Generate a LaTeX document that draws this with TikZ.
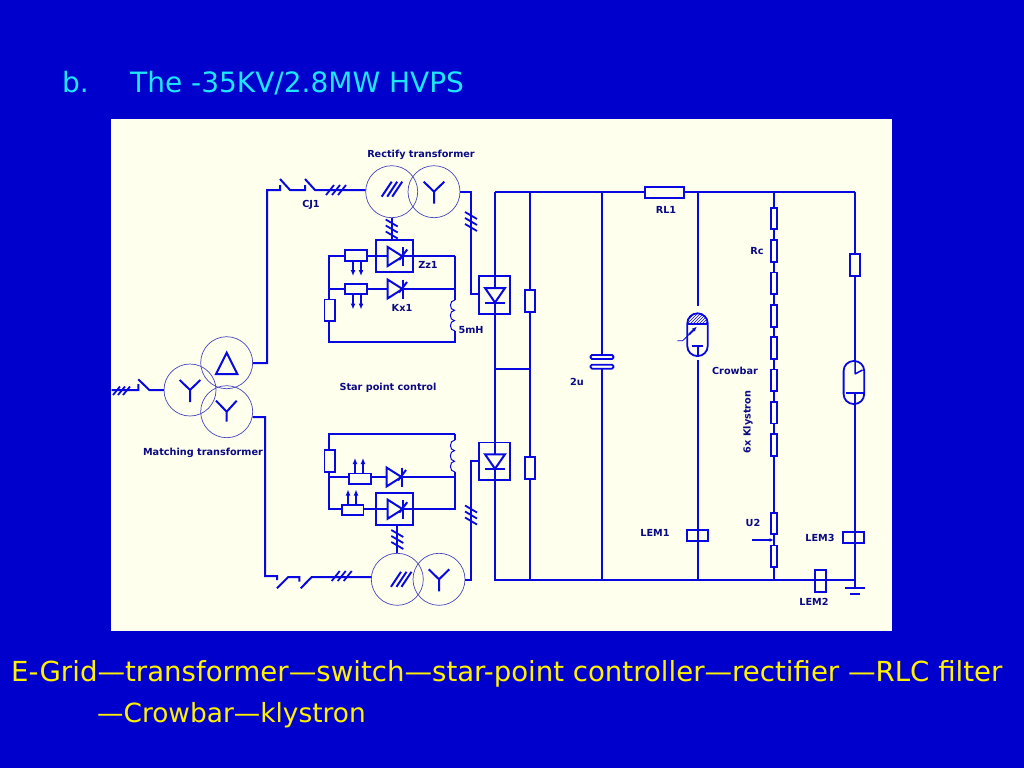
\documentclass[tikz,border=0pt]{standalone}
\usepackage{fontspec}
\setmainfont{DejaVu Sans}
\newfontfamily\lblfont{DejaVu Sans}
\usetikzlibrary{arrows.meta,patterns,shapes.geometric}
\definecolor{slide}{RGB}{0,0,204}
\definecolor{panel}{RGB}{255,255,238}
\definecolor{wirec}{RGB}{8,8,224}
\definecolor{thinc}{RGB}{70,70,190}
\definecolor{lbl}{RGB}{10,10,130}
\definecolor{titlec}{RGB}{30,230,255}
\tikzset{
  wire/.style={draw=wirec,line width=2pt,line join=miter},
  res/.style={draw=wirec,line width=1.8pt,rectangle,inner sep=0pt,outer sep=0pt},
  resv/.style={res,minimum width=10.6pt,minimum height=21.6pt},
  resh/.style={res,minimum width=21.4pt,minimum height=10.6pt},
  rcres/.style={res,minimum width=6pt,minimum height=21.6pt},
  capbar/.style={res,rounded corners=1.5pt,minimum width=23pt,minimum height=4pt},
  tfm/.style={draw=thinc,line width=0.7pt,circle,minimum size=52pt,inner sep=0pt,outer sep=0pt},
  lab/.style={font=\lblfont\bfseries\fontsize{9.7}{11}\selectfont,text=lbl,inner sep=0pt},
  sarrow/.style={wire,-{Latex[length=6pt,width=5pt]}},
  thyrpic/.pic={
    \draw[wire] (-7.5,-9.5)--(-7.5,9.5)--(7.5,0)--cycle;
    \draw[wire] (7.5,-9.5)--(7.5,9.5);
    \draw[wire] (4,3.5)--(12,-7);
  },
  tickh/.pic={
    \draw[wire,line width=1.8pt] (-10,5)--(-2,-5) (-4,5)--(4,-5) (2,5)--(10,-5);
  },
  tickv/.pic={
    \draw[wire,line width=1.8pt] (-6,-10)--(6,-3) (-6,-4)--(6,3) (-6,2)--(6,9);
  },
  slashes/.pic={
    \draw[wire] (-10,7.5)--(0,-7.5) (-4.5,7.5)--(5.5,-7.5) (0.5,7.5)--(10.5,-7.5);
  },
  wye/.pic={
    \draw[wire] (-10.3,-10)--(0,0)--(10.3,-10) (0,0)--(0,12);
  },
  diodedn/.pic={
    \draw[wire] (-10,-7.5)--(10,-7.5)--(0,7)--cycle;
    \draw[wire] (-10,7)--(10,7);
  }
}
\begin{document}
\begin{tikzpicture}[x=1pt,y=-1pt]
\useasboundingbox (0,0) rectangle (1024,768);
\fill[slide] (0,0) rectangle (1024,768);
\fill[panel] (111,119) rectangle (892,631);

% titles
\node[anchor=base west,inner sep=0pt,text=titlec,font=\fontsize{28}{30}\selectfont] (tb) at (62,92) {b.};
\node[anchor=base west,inner sep=0pt,text=titlec,font=\fontsize{28}{30}\selectfont] (tt) at (130,92) {The -35KV/2.8MW HVPS};
\node[anchor=base west,inner sep=0pt,text=yellow,font=\fontsize{27.6}{30}\selectfont] (bl1) at (11,681) {E-Grid—transformer—switch—star-point controller—rectifier —RLC filter};
\node[anchor=base west,inner sep=0pt,text=yellow,font=\fontsize{26.4}{30}\selectfont] (bl2) at (97,722) {—Crowbar—klystron};

% transformers
\node[tfm] (m1) at (190,390) {};
\node[tfm] (m2) at (226.7,362.7) {};
\node[tfm] (m3) at (226.7,411.7) {};
\node[tfm] (r1) at (391.7,191.7) {};
\node[tfm] (r2) at (434,191.7) {};
\node[tfm] (s1) at (397.3,579.3) {};
\node[tfm] (s2) at (439,579.3) {};
\draw[wire] (226.7,352.7)--(216,374)--(237.3,374)--cycle;
\pic at (190,390) {wye};
\draw[wire] (216,400.7)--(226.7,411.7)--(236.7,400.7) (226.7,411.7)--(226.7,421.7);
\pic at (391.7,189.2) {slashes};
\pic at (434,191.7) {wye};
\pic at (401,579.3) {slashes};
\pic at (439,579.3) {wye};

% input
\coordinate (in0) at (111.5,390);
\coordinate (in1) at (138.3,390);
\coordinate (in2) at (138.3,384);
\coordinate (in3) at (138.3,379.3);
\coordinate (in4) at (149.3,390);
\draw[wire] (in0)--(in1)--(in2) (in3)--(in4)--(m1.west);
\draw[wire,line width=1.8pt] (113,395)--(120,386.5) (118,395)--(125,386.5) (123,395)--(130,386.5);

% upper feed
\coordinate (ua) at (267,363);
\coordinate (ub) at (267,190);
\coordinate (uc) at (280,190);
\coordinate (ud) at (280,185);
\coordinate (ue) at (280,179);
\coordinate (uf) at (290,190);
\coordinate (ug) at (305,190);
\coordinate (uh) at (305,185);
\coordinate (ui) at (305,179);
\coordinate (uj) at (315,190);
\draw[wire] (m2.east|-ua)--(ua)--(ub)--(uc)--(ud) (ue)--(uf)--(ug)--(uh) (ui)--(uj)--(r1.west|-uj);
\pic at (336,190) {tickh};
\coordinate (ov) at (471,192);
\coordinate (ow) at (471,294);
\coordinate (ox) at (479,294);
\draw[wire] (r2.east|-ov)--(ov)--(ow)--(ox);
\pic at (471,222) {tickv};

% lower feed
\coordinate (la) at (265,417);
\coordinate (lb) at (265,576);
\coordinate (lc) at (277,576);
\coordinate (ld) at (277,580);
\coordinate (le) at (277,588.3);
\coordinate (lf) at (288.3,577);
\coordinate (lg) at (299.3,577);
\coordinate (lh) at (299.3,581.7);
\coordinate (li) at (300.7,588.3);
\coordinate (lj) at (311.7,577);
\draw[wire] (m3.east|-la)--(la)--(lb)--(lc)--(ld) (le)--(lf)--(lg)--(lh) (li)--(lj)--(s1.west|-lj);
\pic at (341.7,576) {tickh};
\coordinate (pv) at (471,580);
\coordinate (pw) at (471,461);
\coordinate (px) at (479,461);
\draw[wire] (s2.east|-pv)--(pv)--(pw)--(px);
\pic at (471,515.5) {tickv};

% rectifiers
\node[res,minimum width=31pt,minimum height=37.7pt] (d1) at (494.5,295) {};
\node[res,minimum width=31pt,minimum height=37.7pt] (d2) at (494.5,461.3) {};
\pic at (495,295.5) {diodedn};
\pic at (495,461.8) {diodedn};

% bus
\coordinate (bt) at (495,192);
\coordinate (bb) at (496,580);
\coordinate (j1) at (530,192);
\coordinate (j2) at (602,192);
\coordinate (j3) at (698,192);
\coordinate (j4) at (774,192);
\coordinate (j5) at (855,192);
\coordinate (k1) at (530,580);
\coordinate (k2) at (602,580);
\coordinate (k3) at (698,580);
\coordinate (k4) at (774,580);
\coordinate (k5) at (855,580);
\coordinate (gnd) at (855,588);
\node[res,minimum width=39pt,minimum height=11.3pt] (rl) at (664.8,192.6) {};
\draw[wire] (bt)--(rl.west|-bt) (rl.east|-bt)--(j5);
\draw[wire] (bb)--(k5);
\coordinate (dta) at (495,288);
\coordinate (dtb) at (495,302.5);
\coordinate (dbc) at (495,454.3);
\coordinate (dbd) at (495,468.8);
\draw[wire] (bt)--(dta) (dtb)--(dbc) (dbd)--(495,580)--(bb);
\coordinate (mid) at (495,369);
\coordinate (midr) at (530,369);
\draw[wire] (mid)--(midr);

% second branch
\node[resv] (ra) at (530,300.8) {};
\node[resv] (rb) at (530,467.8) {};
\draw[wire] (j1)--(ra.north) (ra.south)--(rb.north) (rb.south)--(k1);

% capacitor
\node[capbar] (c1) at (602,357) {};
\node[capbar] (c2) at (602,366.7) {};
\draw[wire] (j2)--(c1.north) (c2.south)--(k2);

% crowbar
\node[res,rounded corners=10pt,minimum width=20.4pt,minimum height=42.7pt] (cb) at (697.5,334.7) {};
\draw[wire] (j3)--(698,306) (698,360)--(k3);
\path[pattern=north east lines,pattern color=wirec] (687.3,324)--(687.3,323.5) .. controls (687.3,317) and (692,313.3) .. (697.5,313.3) .. controls (703,313.3) and (707.7,317) .. (707.7,323.5)--(707.7,324)--cycle;
\draw[wire] (687.3,324)--(707.7,324);
\draw[wire] (691.7,346)--(703.3,346) (697.5,346)--(cb.south);
\draw[draw=wirec,line width=0.8pt] (677.3,340.7)--(682.7,340.7)--(690,333.5);
\draw[wire,-{Latex[length=5pt,width=4pt]}] (689,334.5)--(697,326.5);
\node[res,minimum width=21.3pt,minimum height=11.3pt] (lem1) at (697.6,535.6) {};

% Rc chain
\foreach \n/\yy in {1/218.5,2/250.8,3/283.3,4/315.8,5/348,6/380.2,7/412.6,8/445}{
  \node[rcres] (rc\n) at (774,\yy) {};
}
\draw[wire] (j4)--(rc1.north);
\foreach \a/\b in {1/2,2/3,3/4,4/5,5/6,6/7,7/8}{ \draw[wire] (rc\a.south)--(rc\b.north); }
\node[rcres] (rc9) at (774,523.5) {};
\node[rcres] (rc10) at (774,556.2) {};
\draw[wire] (rc8.south)--(rc9.north) (rc9.south)--(rc10.north) (rc10.south)--(k4);
\coordinate (u2s) at (752.3,540);
\coordinate (u2e) at (773.5,540);
\draw[sarrow,-{Latex[length=4pt,width=4pt]}] (u2s)--(u2e);

% klystron branch
\node[resv] (rk) at (855,264.8) {};
\node[res,rounded corners=10pt,minimum width=20.6pt,minimum height=43pt] (kl) at (853.9,382.5) {};
\draw[wire] (j5)--(rk.north) (rk.south)--(kl.north-|rk.south) (kl.south-|rk.south)--(k5)--(gnd);
\draw[wire,line width=1.5pt] (855,361)--(855,374) (855,374)--(862.5,370);
\draw[wire] (846,393.3)--(864,393.3) (855,393.3)--(kl.south-|rk.south);
\node[res,minimum width=21pt,minimum height=11pt] (lem3) at (853.8,537.8) {};
\node[res,minimum width=10.4pt,minimum height=21.7pt] (lem2) at (820.5,580.8) {};
\draw[wire] (845,588)--(865.3,588);
\draw[wire] (850,594)--(860,594);

% upper control
\node[res,minimum width=37pt,minimum height=32pt] (zz1) at (394.2,256) {};
\pic at (395.2,256.5) {thyrpic};
\coordinate (aa) at (329,256);
\coordinate (ab) at (329,289);
\coordinate (ac) at (329,342);
\coordinate (ad) at (455,342);
\coordinate (ae) at (455,256);
\coordinate (af) at (455,289);
\coordinate (ag) at (455,300);
\coordinate (ah) at (455,331);
\node[resh] (ru1) at (356,255.6) {};
\node[resh] (ru2) at (356,289) {};
\node[resv] (ru3) at (329.8,310.2) {};
\coordinate (t1l) at (387.7,256);
\coordinate (t2l) at (387.2,289);
\coordinate (t2r) at (402.7,289);
\pic at (395,289) {thyrpic};
\draw[wire] (ae)--(zz1.east) (ru1.east|-aa)--(zz1.west|-aa) (zz1.west|-aa)--(t1l);
\draw[wire] (402.7,256)--(zz1.east|-aa);
\draw[wire] (ru1.west|-aa)--(aa)--(ab)--(ru3.north-|ab) (ab)--(ru2.west) (ru2.east)--(t2l) (t2r)--(af);
\draw[wire] (ru3.south-|ab)--(ac)--(ad)--(ah) (ae)--(ag);
\draw[wire,line width=1pt] (ag) .. controls (449,300) and (449,310.3) .. (454.5,310.3) .. controls (449,310.3) and (449,320.6) .. (454.5,320.6) .. controls (449,320.6) and (449,331) .. (ah);
\foreach \x in {353,361}{
  \draw[sarrow] (\x,260.7)--(\x,276);
  \draw[sarrow] (\x,294)--(\x,309.5);
}
\draw[wire] (r1.south)--(zz1.north-|r1.south);
\pic at (391.7,229.5) {tickv};

% lower control
\node[res,minimum width=37pt,minimum height=32pt] (zz2) at (394.2,509.3) {};
\pic at (395.2,509.2) {thyrpic};
\coordinate (ba) at (329,434);
\coordinate (bc) at (329,477);
\coordinate (bd) at (329,509);
\coordinate (be) at (455,434);
\coordinate (bf) at (455,440);
\coordinate (bg) at (455,472);
\coordinate (bh) at (455,477);
\coordinate (bi) at (455,509);
\node[resv] (rl3) at (329.8,461) {};
\node[resh] (rl1) at (360,478.7) {};
\node[resh] (rl2) at (352.7,510) {};
\coordinate (t3l) at (386,477);
\coordinate (t3r) at (402,477);
\pic at (394,477) {thyrpic};
\draw[wire] (be)--(ba)--(rl3.north-|ba) (rl3.south-|ba)--(bc)--(bd)--(rl2.west|-bd) (bc)--(rl1.west|-bc);
\draw[wire] (rl1.east|-bc)--(t3l) (t3r)--(bh);
\draw[wire] (rl2.east|-bd)--(zz2.west|-bd)--(387.7,509) (402.7,509)--(bi)--(bg) (be)--(bf);
\draw[wire,line width=1pt] (bf) .. controls (449,440) and (449,450.6) .. (454.5,450.6) .. controls (449,450.6) and (449,461.2) .. (454.5,461.2) .. controls (449,461.2) and (449,472) .. (bg);
\foreach \x in {355,363}{ \draw[sarrow] (\x,473.3)--(\x,458); }
\foreach \x in {348,356}{ \draw[sarrow] (\x,504.7)--(\x,489.5); }
\draw[wire] (s1.north)--(zz2.south-|s1.north);
\pic at (397.3,540) {tickv};

% labels
\node[lab] (lrt) at (421,155) {Rectify transformer};
\node[lab] (lcj) at (311,205) {CJ1};
\node[lab] (lzz) at (428,265) {Zz1};
\node[lab] (lkx) at (402,308) {Kx1};
\node[lab] (l5m) at (471,330) {5mH};
\node[lab] (lsp) at (388,388) {Star point control};
\node[lab] (lmt) at (203,453) {Matching transformer};
\node[lab] (lrl) at (666,210) {RL1};
\node[lab] (lrc) at (757,251) {Rc};
\node[lab] (lcr) at (735,371) {Crowbar};
\node[lab,rotate=90] (lkl) at (748,422) {6x Klystron};
\node[lab] (l2u) at (577,382) {2u};
\node[lab] (ll1) at (655,533) {LEM1};
\node[lab] (lu2) at (753,523) {U2};
\node[lab] (ll3) at (820,538) {LEM3};
\node[lab] (ll2) at (814,602) {LEM2};
\end{tikzpicture}
\end{document}
